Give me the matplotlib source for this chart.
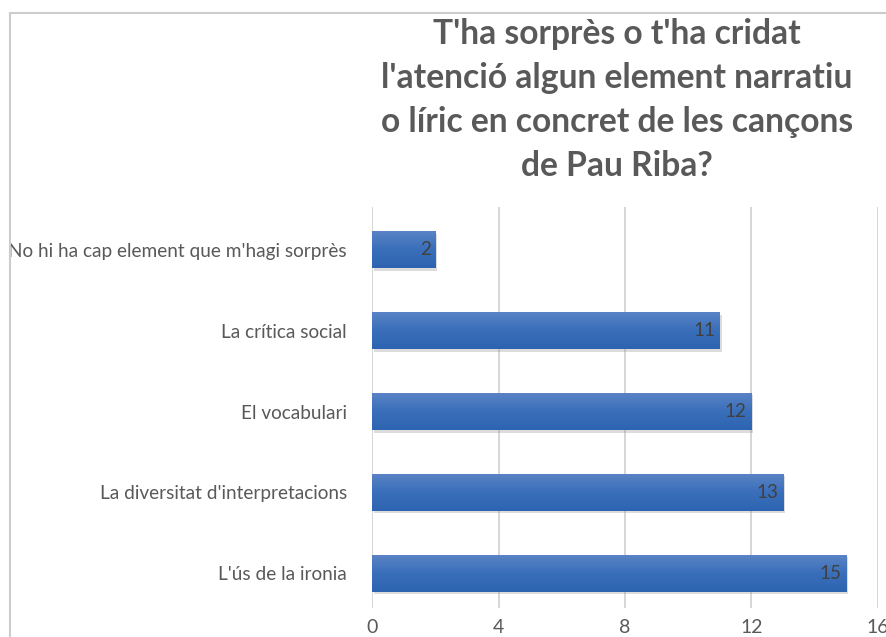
import numpy as np
import matplotlib
matplotlib.use("Agg")
import matplotlib.pyplot as plt
from matplotlib.colors import LinearSegmentedColormap
from matplotlib.patches import Rectangle

plt.rcParams['font.family'] = ['Lato', 'DejaVu Sans']

# Respostes (de dalt a baix)
categories = [
    "No hi ha cap element que m'hagi sorprès",
    "La crítica social",
    "El vocabulari",
    "La diversitat d'interpretacions",
    "L'ús de la ironia",
]
values = [2, 11, 12, 13, 15]
xticks = [0, 4, 8, 12, 16]
title = ("T'ha sorprès o t'ha cridat\n"
         "l'atenció algun element narratiu\n"
         "o líric en concret de les cançons\n"
         "de Pau Riba?")

fig = plt.figure(figsize=(8.87, 6.37), dpi=100)
fig.patch.set_facecolor("white")

# marc del gràfic
fig.patches.append(Rectangle((10 / 887, -0.05), 1.2, 1 - 13 / 637 + 0.05,
                             transform=fig.transFigure, fill=False,
                             edgecolor="#cccccc", lw=1.5, zorder=0))

fig.text(617 / 887, 1 - 100 / 637, title, ha="center", va="center",
         fontsize=24.2, fontweight="bold", color="#595959", linespacing=1.47)

ax = fig.add_axes([372 / 887, 1 - 608 / 637, (878 - 372) / 887, (608 - 207) / 637])
ypos = np.arange(len(values))
h = 0.46

grad = LinearSegmentedColormap.from_list("blau", ["#2d64b1", "#3a6fba", "#5b84c6"])
g = np.linspace(0, 1, 64).reshape(-1, 1)

bars = ax.barh(ypos, values, height=h, color="#3a6cb8", zorder=3)
for b, v, y in zip(bars, values, ypos):
    # ombra
    ax.add_patch(Rectangle((0.06, y - h / 2 + 0.03), v, h, facecolor="#8c8c8c",
                           alpha=0.3, lw=0, zorder=2))
    im = ax.imshow(g, cmap=grad, aspect="auto", origin="lower",
                   extent=[0, v, y + h / 2, y - h / 2], zorder=3.5)
    im.set_clip_path(b)
    ax.text(v - 0.15, y, str(v), ha="right", va="center",
            fontsize=13.5, color="#404040", zorder=5)

ax.set_xlim(0, 16)
ax.set_ylim(4 + 0.43, -0.53)
ax.set_xticks(xticks)
ax.set_xticklabels([str(t) for t in xticks])
ax.set_yticks(ypos)
ax.set_yticklabels(categories)
ax.tick_params(axis="both", length=0, colors="#595959")
ax.tick_params(axis="x", labelsize=14, pad=8)
ax.tick_params(axis="y", labelsize=13.7, pad=18)
ax.xaxis.grid(True, color="#d0d0d0", lw=1.2, zorder=0)
ax.set_axisbelow(True)
for s in ax.spines.values():
    s.set_visible(False)

fig.savefig("out.png", dpi=100)
